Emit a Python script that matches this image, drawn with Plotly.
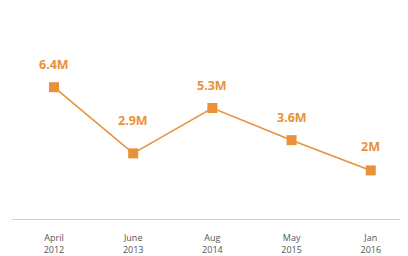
import plotly.graph_objects as go

categories = ["April<br>2012", "June<br>2013", "Aug<br>2014", "May<br>2015", "Jan<br>2016"]
values = [6.4, 2.9, 5.3, 3.6, 2.0]
labels = ["6.4M", "2.9M", "5.3M", "3.6M", "2M"]
label_shift = [23, 33, 23, 23, 24]

orange = "#E8913A"

fig = go.Figure()
fig.add_trace(go.Scatter(
    x=categories, y=values, mode="lines+markers",
    line=dict(color=orange, width=1.6),
    marker=dict(symbol="square", size=10, color=orange),
    hoverinfo="skip",
))
for c, v, t, s in zip(categories, values, labels, label_shift):
    fig.add_annotation(x=c, y=v, text="<b>%s</b>" % t, showarrow=False,
                       yshift=s, font=dict(family="Open Sans", size=12.5, color=orange))

# page body has an 8px margin, so the figure is sized 400x248
fig.update_layout(
    width=400, height=248,
    margin=dict(l=4, r=0, t=0, b=35),
    paper_bgcolor="white", plot_bgcolor="white",
    showlegend=False,
    xaxis=dict(type="category", range=[-0.53, 4.47], showgrid=False, zeroline=False,
               showline=True, linecolor="#cfcfcf", linewidth=1,
               ticks="", ticklabelstandoff=10,
               tickfont=dict(family="Open Sans", size=9, color="#555555")),
    yaxis=dict(range=[-0.57, 10.59], visible=False, showgrid=False, zeroline=False),
)
fig.write_html("out.html")
